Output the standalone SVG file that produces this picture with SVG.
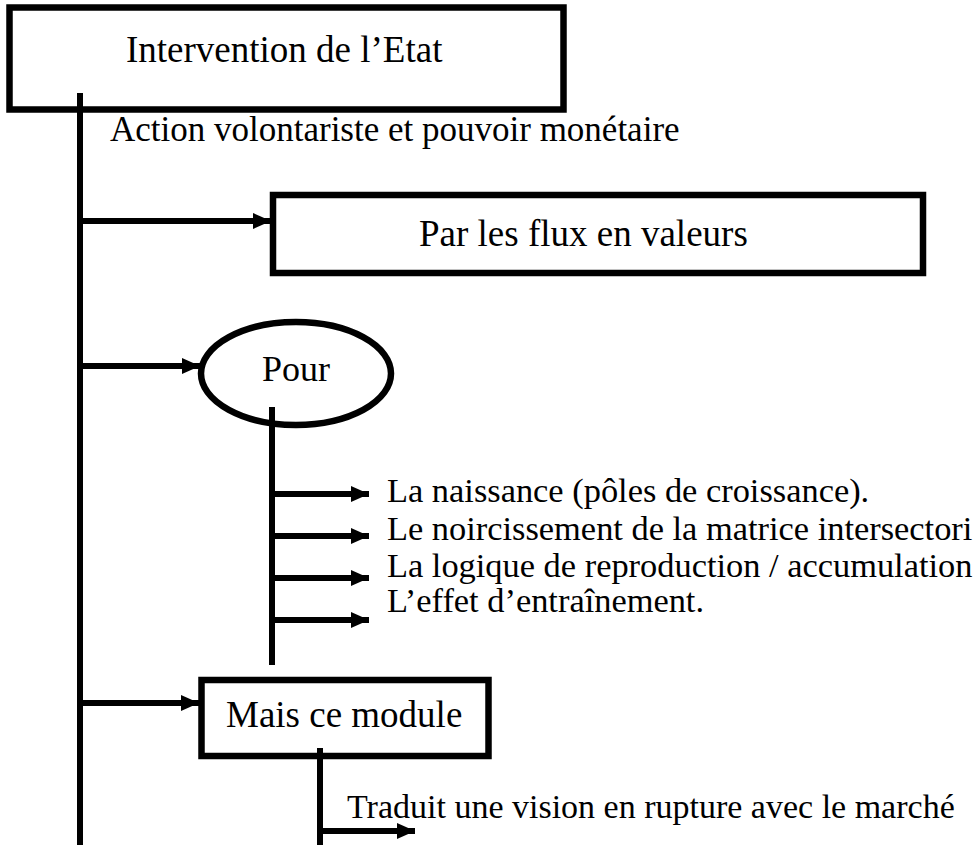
<svg xmlns="http://www.w3.org/2000/svg" width="973" height="845" viewBox="0 0 973 845">
<defs>
<style>
.box{fill:#fff;stroke:#000;stroke-width:6.5}
.ln{fill:none;stroke:#000;stroke-width:6}
.ar{fill:none;stroke:#000;stroke-width:6;marker-end:url(#ah)}
.t{font-family:"Liberation Serif","Times New Roman",serif;fill:#000}
.li{font-size:34.4px}
</style>
<marker id="ah" markerUnits="userSpaceOnUse" markerWidth="20" markerHeight="18" refX="18" refY="9" orient="auto">
<path d="M0,1 L18,9 L0,17 Z" fill="#000"/>
</marker>
</defs>
<rect width="973" height="845" fill="#fff"/>
<g id="n-intervention">
<rect class="box" x="9.5" y="7.5" width="554" height="102"/>
<text class="t" x="126" y="62" font-size="37">Intervention de l’Etat</text>
</g>
<g id="n-action">
<text class="t" x="110" y="141" font-size="35">Action volontariste et pouvoir monétaire</text>
</g>
<g id="n-flux">
<rect class="box" x="273" y="195" width="650" height="78"/>
<text class="t" x="419" y="246" font-size="37">Par les flux en valeurs</text>
</g>
<g id="n-pour">
<ellipse class="box" cx="296" cy="373.5" rx="95" ry="51.5"/>
<text class="t" x="262" y="381" font-size="36">Pour</text>
</g>
<g id="n-list">
<text class="t li" x="387" y="502">La naissance (pôles de croissance).</text>
<text class="t li" x="387" y="540">Le noircissement de la matrice intersectori</text>
<text class="t li" x="387" y="577">La logique de reproduction / accumulation</text>
<text class="t li" x="387" y="612">L’effet d’entraînement.</text>
</g>
<g id="n-mais">
<rect class="box" x="201.5" y="680" width="287" height="76"/>
<text class="t" x="226" y="727" font-size="37">Mais ce module</text>
</g>
<g id="n-traduit">
<text class="t" x="347" y="818" font-size="34">Traduit une vision en rupture avec le marché</text>
</g>
<g id="connectors">
<line class="ln" x1="80" y1="93" x2="80" y2="845"/>
<line class="ar" x1="80" y1="221" x2="271" y2="221"/>
<line class="ar" x1="80" y1="366" x2="200" y2="366"/>
<line class="ar" x1="80" y1="703" x2="199" y2="703"/>
<line class="ln" x1="272" y1="407" x2="272" y2="665"/>
<line class="ar" x1="272" y1="494" x2="369" y2="494"/>
<line class="ar" x1="272" y1="536" x2="369" y2="536"/>
<line class="ar" x1="272" y1="578" x2="369" y2="578"/>
<line class="ar" x1="272" y1="620" x2="369" y2="620"/>
<line class="ln" x1="320" y1="748" x2="320" y2="845"/>
<line class="ar" x1="320" y1="831" x2="415" y2="831"/>
</g>
</svg>
